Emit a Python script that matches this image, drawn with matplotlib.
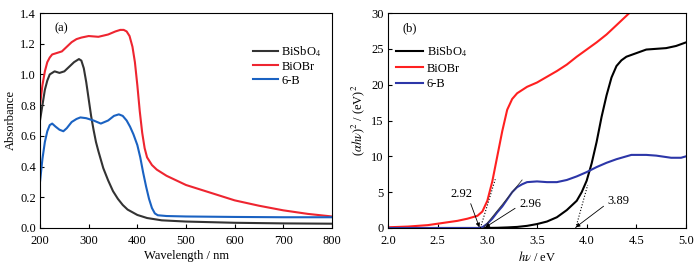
import matplotlib.pyplot as plt

plt.rcParams['font.family'] = ['Liberation Serif', 'DejaVu Serif']
plt.rcParams['font.size'] = 9
plt.rcParams['mathtext.fontset'] = 'stix'

# (a) absorbance spectra
wl_bisbo4 = [200, 205, 210, 215, 220, 230, 240, 250, 260, 270, 280, 285, 290, 295, 300, 305, 310,
             315, 320, 330, 340, 350, 360, 370, 380, 400, 420, 450, 500, 600, 700, 800]
abs_bisbo4 = [0.70, 0.80, 0.90, 0.96, 1.00, 1.02, 1.01, 1.02, 1.05, 1.08, 1.10, 1.09, 1.04, 0.95, 0.84,
              0.73, 0.64, 0.56, 0.50, 0.39, 0.31, 0.24, 0.19, 0.15, 0.12, 0.085, 0.065, 0.05, 0.042,
              0.034, 0.03, 0.028]

wl_biobr = [200, 205, 210, 215, 220, 225, 235, 245, 255, 265, 275, 285, 300, 320, 340, 355, 365, 372,
            378, 384, 390, 395, 400, 405, 410, 415, 420, 430, 440, 460, 500, 550, 600, 650, 700, 750, 800]
abs_biobr = [0.80, 0.93, 1.02, 1.08, 1.11, 1.13, 1.14, 1.15, 1.18, 1.21, 1.23, 1.24, 1.25, 1.245, 1.26,
             1.28, 1.29, 1.29, 1.28, 1.25, 1.18, 1.08, 0.93, 0.76, 0.62, 0.52, 0.46, 0.41, 0.38, 0.34,
             0.28, 0.23, 0.18, 0.145, 0.115, 0.092, 0.075]

wl_6b = [200, 205, 210, 215, 220, 225, 232, 240, 248, 255, 265, 275, 283, 295, 310, 325, 340, 352, 362,
         370, 378, 385, 392, 400, 406, 412, 418, 424, 430, 436, 442, 460, 500, 600, 700, 800]
abs_6b = [0.30, 0.45, 0.56, 0.63, 0.67, 0.68, 0.66, 0.64, 0.63, 0.65, 0.69, 0.71, 0.72, 0.715, 0.70,
          0.68, 0.70, 0.73, 0.74, 0.73, 0.70, 0.66, 0.61, 0.54, 0.46, 0.36, 0.27, 0.19, 0.13, 0.095,
          0.083, 0.078, 0.075, 0.072, 0.07, 0.07]

# (b) Tauc plot
e_bisbo4 = [2.0, 2.5, 2.95, 3.1, 3.2, 3.3, 3.4, 3.5, 3.6, 3.7, 3.8, 3.9, 3.95, 4.0, 4.05, 4.1, 4.15,
            4.2, 4.25, 4.3, 4.35, 4.4, 4.5, 4.6, 4.7, 4.8, 4.9, 5.0]
t_bisbo4 = [0.0, 0.0, 0.0, 0.03, 0.08, 0.15, 0.3, 0.55, 0.9, 1.5, 2.5, 3.8, 5.0, 6.6, 9.0, 12.0, 15.5,
            18.5, 21.0, 22.6, 23.4, 23.9, 24.4, 24.9, 25.0, 25.1, 25.4, 25.9]

e_biobr = [2.0, 2.2, 2.4, 2.5, 2.6, 2.7, 2.8, 2.85, 2.9, 2.95, 3.0, 3.05, 3.1, 3.15, 3.2, 3.25, 3.3,
           3.4, 3.5, 3.6, 3.7, 3.8, 3.9, 4.0, 4.1, 4.2, 4.3, 4.43]
t_biobr = [0.1, 0.2, 0.4, 0.6, 0.8, 1.0, 1.3, 1.5, 1.7, 2.3, 3.8, 6.5, 10.0, 13.5, 16.5, 18.0, 18.8,
           19.7, 20.3, 21.1, 21.9, 22.8, 23.9, 24.9, 25.9, 27.0, 28.3, 30.0]

e_6b = [2.0, 2.5, 2.9, 2.95, 3.0, 3.05, 3.1, 3.15, 3.2, 3.25, 3.3, 3.35, 3.4, 3.5, 3.6, 3.7, 3.8, 3.9,
        4.0, 4.1, 4.2, 4.3, 4.45, 4.6, 4.7, 4.85, 4.95, 5.0]
t_6b = [0.0, 0.0, 0.0, 0.1, 0.6, 1.3, 2.2, 3.0, 4.0, 5.0, 5.7, 6.1, 6.4, 6.5, 6.4, 6.4, 6.7, 7.2, 7.8,
        8.5, 9.1, 9.6, 10.2, 10.2, 10.1, 9.8, 9.8, 10.0]

gaps = [2.92, 2.96, 3.89]
gap_labels = ['2.92', '2.96', '3.89']
label_pos = [(2.74, 4.8), (3.43, 3.35), (4.32, 3.7)]

fig = plt.figure(figsize=(6.98, 2.68), dpi=100)
ax1 = fig.add_axes([40 / 698, 40 / 268, 292 / 698, 215 / 268])
ax2 = fig.add_axes([388 / 698, 40 / 268, 298 / 698, 215 / 268])

ax1.plot(wl_bisbo4, abs_bisbo4, color='#333333', lw=1.5, label='BiSbO$_4$')
ax1.plot(wl_biobr, abs_biobr, color='#ee2530', lw=1.5, label='BiOBr')
ax1.plot(wl_6b, abs_6b, color='#1a62c2', lw=1.5, label='6-B')
ax1.set_xlim(200, 800)
ax1.set_ylim(0, 1.4)
ax1.set_xticks([200, 300, 400, 500, 600, 700, 800])
ax1.set_yticks([0.0, 0.2, 0.4, 0.6, 0.8, 1.0, 1.2, 1.4])
ax1.set_yticklabels(['0.0', '0.2', '0.4', '0.6', '0.8', '1.0', '1.2', '1.4'])
ax1.set_xlabel('Wavelength / nm', labelpad=2)
ax1.set_ylabel('Absorbance', labelpad=2)
ax1.text(0.05, 0.93, '(a)', transform=ax1.transAxes, va='center')
ax1.legend(loc='upper right', bbox_to_anchor=(0.99, 0.89), frameon=False, handlelength=2.0,
           handletextpad=0.3, labelspacing=0.15, borderaxespad=0.2)

ax2.plot(e_bisbo4, t_bisbo4, color='black', lw=1.5, label='BiSbO$_4$')
ax2.plot(e_biobr, t_biobr, color='#ff2020', lw=1.5, label='BiOBr')
ax2.plot(e_6b, t_6b, color='#2c36a8', lw=1.5, label='6-B')
# tangent lines
ax2.plot([2.93, 3.08], [0, 6.8], color='black', lw=0.8, ls=':')
ax2.plot([2.96, 3.35], [0, 6.7], color='#333333', lw=0.6)
ax2.plot([3.89, 4.01], [0, 6.0], color='black', lw=0.8, ls=':')
relpos = [(0.85, 0.0), (0.0, 0.35), (0.0, 0.35)]
for g, lab, pos, rp in zip(gaps, gap_labels, label_pos, relpos):
    ax2.annotate(lab, xy=(g + (0.02 if lab == '2.96' else 0), 0.1), xytext=pos, ha='center', va='center',
                 arrowprops=dict(arrowstyle='-|>', color='black', lw=0.6, mutation_scale=6,
                                 shrinkA=1, shrinkB=0, relpos=rp))
ax2.set_xlim(2.0, 5.0)
ax2.set_ylim(0, 30)
ax2.set_xticks([2.0, 2.5, 3.0, 3.5, 4.0, 4.5, 5.0])
ax2.set_xticklabels(['2.0', '2.5', '3.0', '3.5', '4.0', '4.5', '5.0'])
ax2.set_yticks([0, 5, 10, 15, 20, 25, 30])
ax2.set_xlabel(r'$\it{h\nu}$ / eV', labelpad=2)
ax2.set_ylabel(r'($\it{\alpha h\nu}$)$^2$ / (eV)$^2$', labelpad=3)
ax2.text(0.05, 0.93, '(b)', transform=ax2.transAxes, va='center')
ax2.legend(loc='upper left', bbox_to_anchor=(0.0, 0.89), frameon=False, handlelength=2.2,
           handletextpad=0.3, labelspacing=0.3, borderaxespad=0.2)

for ax in (ax1, ax2):
    ax.tick_params(direction='in', length=3, width=0.8)
    ax.tick_params(axis='x', pad=5)
    ax.tick_params(axis='y', pad=3)
    for s in ax.spines.values():
        s.set_linewidth(0.8)

fig.savefig('out.png', dpi=100)
